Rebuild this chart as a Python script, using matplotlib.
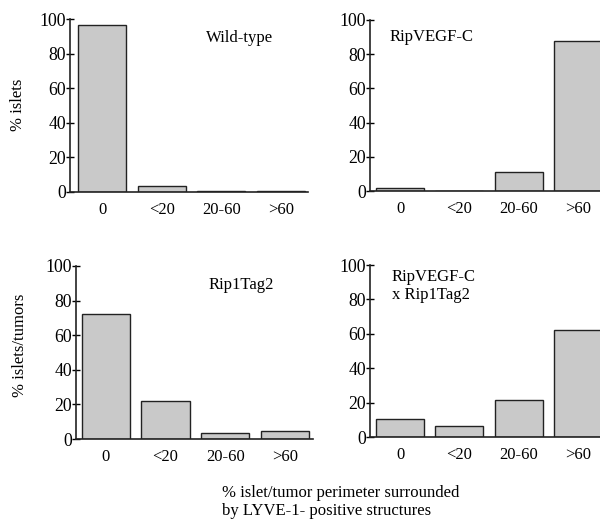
import matplotlib.pyplot as plt

plt.rcParams['font.family'] = ['Liberation Serif', 'DejaVu Serif']
plt.rcParams['font.size'] = 12

categories = ['0', '<20', '20-60', '>60']
wild_type = [96.5, 3.5, 0.3, 0.3]
rip_vegfc = [2, 0, 11, 87.5]
rip1tag2 = [72, 22, 3.5, 4.5]
vegfc_x_tag2 = [10.5, 6.5, 21.5, 62]

panels = [
    # values, label, label pos (axes frac), axes rect, xlim
    (wild_type, 'Wild-type', (0.57, 0.935), [70/600, 1-192/522, 238/600, 173/522], (-0.54, 3.46)),
    (rip_vegfc, 'RipVEGF-C', (0.085, 0.945), [370/600, 1-191/522, 230/600, 171/522], (-0.506, 3.37)),
    (rip1tag2, 'Rip1Tag2', (0.56, 0.935), [76/600, 1-439/522, 237/600, 173/522], (-0.5, 3.47)),
    (vegfc_x_tag2, 'RipVEGF-C\nx Rip1Tag2', (0.095, 0.975), [370/600, 1-437/522, 230/600, 172/522], (-0.506, 3.37)),
]

fig = plt.figure(figsize=(6, 5.22), dpi=100)

for vals, label, lpos, rect, xl in panels:
    ax = fig.add_axes(rect)
    ax.bar(range(len(categories)), vals, width=0.81, color='#c9c9c9',
           edgecolor='#222222', linewidth=1.0)
    ax.set_xlim(*xl)
    ax.set_ylim(0, 100)
    ax.set_yticks([0, 20, 40, 60, 80, 100])
    ax.set_xticks(range(len(categories)))
    ax.set_xticklabels(categories)
    ax.tick_params(axis='x', length=0, pad=7)
    ax.tick_params(axis='y', direction='inout', length=6, width=1, pad=0,
                   labelsize=12.8)
    for s in ['top', 'right']:
        ax.spines[s].set_visible(False)
    for s in ['left', 'bottom']:
        ax.spines[s].set_linewidth(1.2)
        ax.spines[s].set_color('#222222')
    ax.text(lpos[0], lpos[1], label, transform=ax.transAxes, va='top', ha='left',
            linespacing=1.15)

fig.text(18/600, 1-105/522, '% islets', rotation=90, ha='center', va='center')
fig.text(20/600, 1-345/522, '% islets/tumors', rotation=90, ha='center', va='center')
fig.text(222/600, 1-502/522, '% islet/tumor perimeter surrounded\nby LYVE-1- positive structures',
         ha='left', va='center', linespacing=1.1)

fig.savefig('out.png', dpi=100)
